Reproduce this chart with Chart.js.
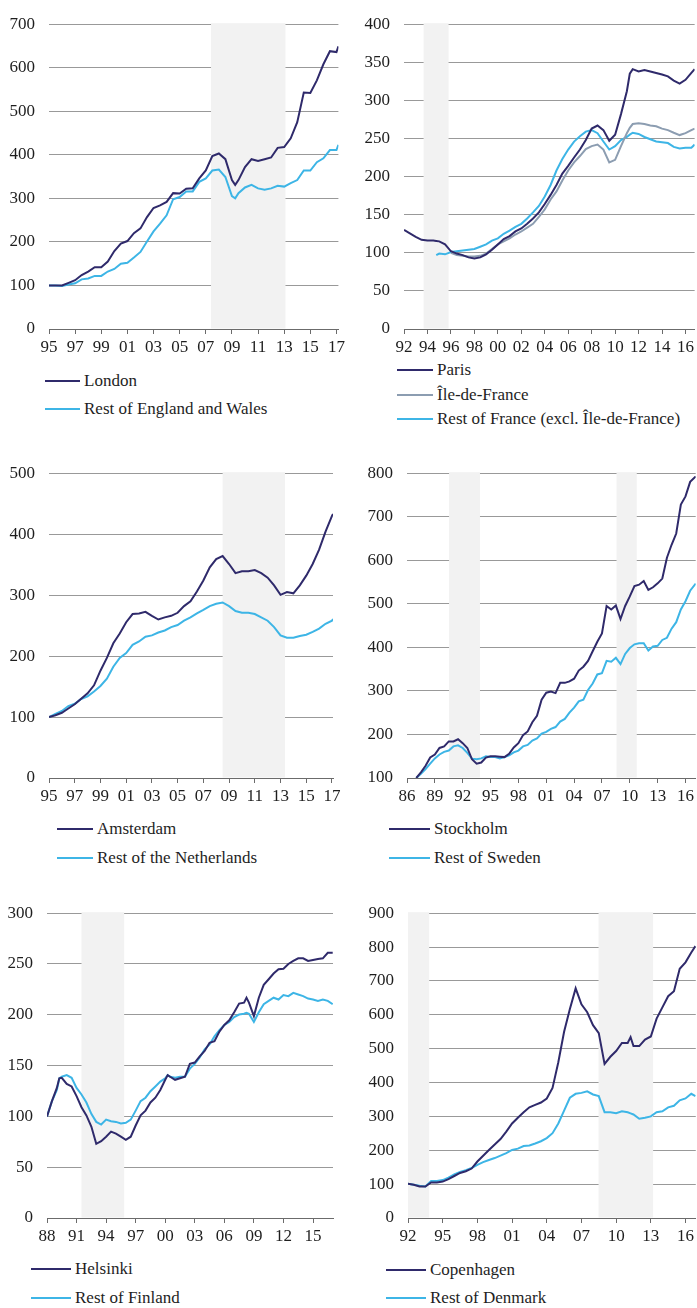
<!DOCTYPE html>
<html>
<head>
<meta charset="utf-8">
<title>Capital city house prices vs rest of country</title>
<script src="https://cdn.jsdelivr.net/npm/chart.js@4/dist/chart.umd.min.js"></script>
<style>
  body { margin: 0; background: #fff; font-family: 'Liberation Serif', 'Times New Roman', serif; }
  #page { position: relative; width: 697px; height: 1308px; overflow: hidden; }
  canvas { position: absolute; }
  .key { position: absolute; height: 20px; display: flex; align-items: center; white-space: nowrap; font-size: 17px; color: #1e1e1e; }
  .key .swatch { height: 0; border-top: 2px solid; }
  .key .name { margin-left: 4px; line-height: 20px; }
</style>
</head>
<body>
<div id="page">
  <canvas id="ukChart" width="348" height="360" style="left:0;top:0;width:348px;height:360px"></canvas>
  <canvas id="frChart" width="347" height="360" style="left:350px;top:0;width:347px;height:360px"></canvas>
  <canvas id="nlChart" width="348" height="360" style="left:0;top:449px;width:348px;height:360px"></canvas>
  <canvas id="seChart" width="347" height="360" style="left:350px;top:449px;width:347px;height:360px"></canvas>
  <canvas id="fiChart" width="348" height="360" style="left:0;top:889px;width:348px;height:360px"></canvas>
  <canvas id="dkChart" width="347" height="360" style="left:350px;top:889px;width:347px;height:360px"></canvas>
</div>
<script>
// colours
const NAVY = '#2f2a6b';
const SKY = '#3db5e6';
const SLATE = '#8c9db1';
const GRID = '#999999';
const SHADE = '#f2f2f2';
const AXIS = '#6b6b6b';
const TICK_FONT = { family: "'Liberation Serif', 'Times New Roman', serif", size: 17 };

// ---- England and Wales (index 1995 = 100)
const ukYears = [1995, 1995.5, 1996, 1996.5, 1997, 1997.5, 1998, 1998.5, 1999, 1999.5,
  2000, 2000.5, 2001, 2001.5, 2002, 2002.5, 2003, 2003.5, 2004, 2004.5,
  2005, 2005.5, 2006, 2006.5, 2007, 2007.5, 2008, 2008.5, 2009, 2009.25, 2009.5,
  2010, 2010.5, 2011, 2011.5, 2012, 2012.5, 2013, 2013.5, 2014, 2014.5,
  2015, 2015.5, 2016, 2016.5, 2017, 2017.15];
const london = [100, 100, 100, 106, 112, 124, 132, 142, 142, 155,
  179, 196, 202, 220, 231, 257, 278, 284, 292, 312,
  311, 322, 323, 346, 364, 397, 403, 390, 342, 331, 342,
  372, 390, 386, 390, 394, 416, 418, 438, 475, 543,
  542, 571, 608, 638, 636, 649];
const restEnglandWales = [100, 100, 99, 102, 105, 114, 116, 122, 122, 132,
  138, 150, 152, 164, 177, 201, 224, 242, 261, 298,
  303, 316, 316, 338, 346, 364, 366, 349, 305, 300, 312,
  325, 331, 323, 320, 323, 329, 327, 335, 342, 364,
  364, 383, 392, 411, 411, 423];
const ukTicks = [1995, 1997, 1999, 2001, 2003, 2005, 2007, 2009, 2011, 2013, 2015, 2017];
const ukShade = [[2007.4, 2013.1]];

// ---- France
const frYears = [1992, 1992.5, 1993, 1993.5, 1994, 1994.5, 1994.75, 1995, 1995.5,
  1996, 1996.5, 1997, 1997.5, 1998, 1998.5, 1999, 1999.5,
  2000, 2000.5, 2001, 2001.5, 2002, 2002.5, 2003, 2003.5, 2004, 2004.5,
  2005, 2005.5, 2006, 2006.5, 2007, 2007.5, 2008, 2008.5, 2009, 2009.5,
  2010, 2010.5, 2011, 2011.25, 2011.5, 2012, 2012.5, 2013, 2013.5,
  2014, 2014.5, 2015, 2015.5, 2016, 2016.5, 2016.78];
const paris = [130, 125.6, 121, 117, 116, 116, 115.5, 115, 111,
  102, 99, 97, 94, 92.6, 94, 98, 104,
  111, 118, 122, 128, 132, 138, 145, 153, 164, 176,
  189, 204, 214, 225, 235.5, 248, 263, 267, 261, 247,
  255, 282, 312, 335, 341, 338, 340, 338, 336,
  334, 331.5, 326, 322, 327, 336, 341];
const ileDeFrance = [null, null, null, null, null, null, null, null, null,
  100, 97, 96, 95, 95, 96, 99, 105,
  111, 115, 119, 124, 128, 133, 138, 147, 157, 170,
  180.5, 195, 208, 218.6, 227, 236, 240, 242, 235.5, 218.6,
  222, 240, 257, 264, 269, 270, 269, 267, 266,
  263, 261, 257.5, 254.5, 257, 261, 263];
const restFrance = [null, null, null, null, null, null, 97, 99, 98,
  101, 102, 103, 104, 105, 108, 111, 116,
  119, 125, 129, 134, 138, 145, 153, 161.5, 174, 189,
  208, 223, 235.5, 246, 253, 259, 261, 257, 246, 235.5,
  240, 248, 252, 255, 257.5, 256, 252, 249, 246,
  245, 244, 239, 237, 238, 238, 242];
const frTicks = [1992, 1994, 1996, 1998, 2000, 2002, 2004, 2006, 2008, 2010, 2012, 2014, 2016];
const frShade = [[1993.67, 1995.8]];

// ---- Netherlands
const nlYears = [1995, 1995.5, 1996, 1996.5, 1997, 1997.5, 1998, 1998.5, 1999, 1999.5,
  2000, 2000.5, 2001, 2001.5, 2002, 2002.5, 2003, 2003.5, 2004, 2004.5,
  2005, 2005.5, 2006, 2006.5, 2007, 2007.5, 2008, 2008.5, 2009, 2009.5,
  2010, 2010.5, 2011, 2011.5, 2012, 2012.5, 2013, 2013.5, 2014, 2014.5,
  2015, 2015.5, 2016, 2016.5, 2017, 2017.08];
const amsterdam = [100, 103, 107, 114, 121, 130, 139, 152, 176, 197,
  221, 237, 255.5, 269, 270, 272.5, 266, 260, 263.5, 266,
  271, 282, 290, 306, 324, 345.5, 359, 364, 351, 336,
  339, 339, 341, 336, 328.6, 316, 300.5, 305, 303, 316,
  332, 351, 374.6, 404, 430, 433];
const restNetherlands = [100, 105, 110, 118, 121.7, 129.6, 134, 142, 151, 163,
  182.5, 197, 205, 218.5, 224, 231.7, 234, 238.6, 242, 247.6,
  251, 258, 263.5, 270, 275.7, 282, 285.7, 288, 282, 274,
  271, 271, 269, 263.5, 258, 247.6, 234, 230, 230, 233,
  235, 239.7, 245, 253, 258, 261];
const nlTicks = [1995, 1997, 1999, 2001, 2003, 2005, 2007, 2009, 2011, 2013, 2015, 2017];
const nlShade = [[2008.5, 2013.35]];

// ---- Sweden
const seYears = [1987, 1987.5, 1988, 1988.5, 1989, 1989.5, 1990, 1990.5, 1991, 1991.5,
  1992, 1992.5, 1993, 1993.5, 1994, 1994.5, 1995, 1995.5, 1996, 1996.5,
  1997, 1997.5, 1998, 1998.5, 1999, 1999.5, 2000, 2000.5, 2001, 2001.5,
  2002, 2002.5, 2003, 2003.5, 2004, 2004.5, 2005, 2005.5, 2006, 2006.5,
  2007, 2007.5, 2008, 2008.5, 2009, 2009.5, 2010, 2010.5, 2011, 2011.5,
  2012, 2012.5, 2013, 2013.5, 2014, 2014.5, 2015, 2015.5, 2016, 2016.5, 2017.1];
const stockholm = [100, 113, 128, 147, 154, 169, 172.6, 184, 184, 189,
  180, 169, 143, 133, 135.6, 147, 150, 150, 149, 148,
  155.6, 170, 180, 198.5, 207, 228, 243, 280, 296, 298.5,
  295, 318.5, 318.5, 322, 328, 346.7, 355.6, 369, 391, 413,
  432, 495, 487, 496, 465, 495, 517, 541, 544, 552.6,
  532, 538, 547, 558, 606, 635.6, 661.5, 728, 746.7, 780, 792.6];
const restSweden = [100, 109.6, 120.7, 133, 145, 154, 160, 163, 172.6, 175,
  169, 157.8, 144.4, 143, 145, 150, 148, 148, 145, 148,
  152, 159, 163, 172.6, 176, 186, 191, 202, 206, 213,
  217, 229.6, 235.6, 250, 261.5, 276, 280, 302, 317, 337.8,
  340.7, 369, 367, 376, 361.5, 385, 398.5, 407, 409.6, 409.6,
  392.6, 402, 403.7, 417, 422, 443, 457.8, 487, 506, 530, 546.7];
const seTicks = [1986, 1989, 1992, 1995, 1998, 2001, 2004, 2007, 2010, 2013, 2016];
const seShade = [[1990.53, 1993.86], [2008.57, 2010.75]];

// ---- Finland
const fiYears = [1988, 1988.5, 1989, 1989.25, 1989.5, 1990, 1990.5, 1991, 1991.5,
  1992, 1992.5, 1993, 1993.5, 1994, 1994.5, 1995, 1995.5, 1996, 1996.5,
  1997, 1997.5, 1998, 1998.5, 1999, 1999.5, 2000, 2000.25, 2000.5,
  2001, 2001.5, 2002, 2002.5, 2003, 2003.5, 2004, 2004.5, 2005, 2005.5,
  2006, 2006.5, 2007, 2007.5, 2008, 2008.25, 2008.5, 2009, 2009.5,
  2010, 2010.5, 2011, 2011.5, 2012, 2012.5, 2013, 2013.5, 2014, 2014.5,
  2015, 2015.5, 2016, 2016.5, 2017];
const helsinki = [100, 115, 128, 137.5, 138, 132, 129.5, 120, 109,
  101, 90, 73, 75.6, 80, 85, 83, 80, 77, 80,
  91, 101, 105.7, 113.7, 118.4, 126, 136, 140.6, 139,
  136, 137.5, 139, 151.7, 153, 159, 164.4, 172.4, 174, 183.5,
  190, 194.6, 202.5, 211, 212, 216.8, 212, 198.7, 216.8,
  229.5, 235, 240.6, 244.8, 245.4, 250, 253, 255.6, 255.6, 253,
  254, 255, 255.6, 261, 261];
const restFinland = [100, 115, 126, 137.5, 139, 140.6, 138, 128, 121.6,
  113.7, 102.5, 94.6, 92, 96.8, 95.2, 94.6, 93, 93.7, 96.8,
  105.7, 115, 118.4, 124.8, 129.5, 134.3, 137.5, 140.6, 139,
  138, 139, 139, 147, 151.7, 158, 166, 170.8, 178.7, 185,
  190, 193, 197.8, 200.3, 201, 202, 201, 193, 202.5,
  210.5, 213.7, 216.8, 215, 219.4, 218.4, 221.6, 220, 218.4, 216,
  215, 213.7, 215, 213.7, 210.5];
const fiTicks = [1988, 1991, 1994, 1997, 2000, 2003, 2006, 2009, 2012, 2015];
const fiShade = [[1991.5, 1995.83]];

// ---- Denmark
const dkYears = [1992, 1992.5, 1993, 1993.5, 1994, 1994.5, 1995, 1995.5, 1996, 1996.5,
  1997, 1997.5, 1998, 1998.5, 1999, 1999.5, 2000, 2000.5, 2001, 2001.5,
  2002, 2002.5, 2003, 2003.5, 2004, 2004.5, 2005, 2005.5, 2006, 2006.5,
  2007, 2007.5, 2008, 2008.5, 2009, 2009.5, 2010, 2010.5, 2011, 2011.25, 2011.5,
  2012, 2012.5, 2013, 2013.5, 2014, 2014.5, 2015, 2015.5, 2016, 2016.5, 2016.86];
const copenhagen = [101, 98, 93, 93, 105, 105, 107.6, 115, 124, 133,
  138, 146, 166.7, 184, 201, 217, 233, 255, 279, 296,
  312, 326.7, 334, 341, 353, 384, 460, 550, 617, 678,
  631, 607.6, 569.5, 545.7, 455, 476, 493, 517, 517, 534, 507.6,
  507.6, 526.7, 536, 588.6, 622, 655, 669.5, 736, 755, 784, 803];
const restDenmark = [101, 98, 95, 93, 109.5, 109.5, 112, 119, 128.6, 136,
  141, 147.6, 157, 164.8, 171.4, 177, 184, 191.4, 201, 204.8,
  212.4, 214, 220, 226.7, 236, 250.5, 279, 317, 355, 366.7,
  369.5, 374, 364.8, 360, 312.4, 312.4, 309.5, 315, 312.4, 309, 305.7,
  293, 296, 300, 312.4, 315, 326.7, 331.4, 347.6, 353, 366.7, 360];
const dkTicks = [1992, 1995, 1998, 2001, 2004, 2007, 2010, 2013, 2016];
const dkShade = [[1992, 1993.83], [2008.48, 2013.2]];

Chart.defaults.font.family = TICK_FONT.family;
Chart.defaults.font.size = 17;
Chart.defaults.color = '#1e1e1e';

const CANVAS_H = 360;
const PLOT_TOP = 14;
const PLOT_H = 315;

// grey recession bands, painted over the gridlines but under the lines
const shadeBands = {
  id: 'shadeBands',
  beforeDatasetsDraw(chart, args, opts) {
    const { ctx, chartArea: a, scales: { x } } = chart;
    ctx.save();
    ctx.fillStyle = SHADE;
    (opts.periods || []).forEach(([from, to]) => {
      const x1 = Math.max(a.left, x.getPixelForValue(from));
      const x2 = x.getPixelForValue(to);
      ctx.fillRect(x1, a.top - 1, x2 - x1, a.bottom - a.top + 0.5);
    });
    ctx.restore();
  }
};

function drawPanel(p) {
  const canvas = document.getElementById(p.id);
  new Chart(canvas, {
    type: 'line',
    data: {
      datasets: p.series.map(s => ({
        label: s.label,
        data: p.years.map((x, i) => ({ x, y: s.values[i] })).filter(d => d.y != null),
        borderColor: s.color,
        borderWidth: 2,
        pointRadius: 0,
        tension: 0,
        fill: false
      }))
    },
    options: {
      responsive: false,
      animation: false,
      devicePixelRatio: 1,
      layout: { autoPadding: false, padding: { top: PLOT_TOP, right: canvas.width - p.right, left: 0, bottom: 0 } },
      plugins: {
        legend: { display: false },
        tooltip: { enabled: false },
        shadeBands: { periods: p.shade }
      },
      scales: {
        x: {
          type: 'linear',
          min: p.xMin,
          max: p.xMax,
          afterBuildTicks: sc => { sc.ticks = p.ticks.map(v => ({ value: v })); },
          afterFit: sc => { sc.height = CANVAS_H - PLOT_TOP - PLOT_H; },
          grid: { drawOnChartArea: false, drawTicks: true, tickLength: 5, color: AXIS, lineWidth: 1 },
          border: { display: true, color: AXIS, width: 1 },
          ticks: {
            autoSkip: false,
            maxRotation: 0,
            padding: 3,
            font: TICK_FONT,
            color: '#1e1e1e',
            callback: v => String(v % 100).padStart(2, '0')
          }
        },
        y: {
          min: p.yMin,
          max: p.yMax,
          afterFit: sc => { sc.width = p.left; },
          ticks: { stepSize: p.yStep, padding: 14, font: TICK_FONT, color: '#1e1e1e' },
          grid: {
            drawTicks: false,
            lineWidth: 1,
            color: c => (c.tick && c.tick.value === p.yMin) ? 'rgba(0,0,0,0)' : GRID
          },
          border: { display: false }
        }
      }
    },
    plugins: [shadeBands]
  });

  // legend underneath, built from the same series
  const page = document.getElementById('page');
  p.series.forEach((s, i) => {
    const row = document.createElement('div');
    row.className = 'key';
    row.style.left = p.keyX + 'px';
    row.style.top = (p.keyY[i] - 10) + 'px';
    const sw = document.createElement('span');
    sw.className = 'swatch';
    sw.style.width = p.keyW + 'px';
    sw.style.borderTopColor = s.color;
    const nm = document.createElement('span');
    nm.className = 'name';
    nm.textContent = s.label;
    row.appendChild(sw);
    row.appendChild(nm);
    page.appendChild(row);
  });
}

drawPanel({
  id: 'ukChart', years: ukYears, ticks: ukTicks, shade: ukShade,
  xMin: 1995, xMax: 2017.15, yMin: 0, yMax: 700, yStep: 100, left: 49, right: 341,
  series: [
    { label: 'London', values: london, color: NAVY },
    { label: 'Rest of England and Wales', values: restEnglandWales, color: SKY }
  ],
  keyX: 45, keyW: 35, keyY: [381, 409]
});

drawPanel({
  id: 'frChart', years: frYears, ticks: frTicks, shade: frShade,
  xMin: 1992, xMax: 2016.78, yMin: 0, yMax: 400, yStep: 50, left: 54, right: 347,
  series: [
    { label: 'Paris', values: paris, color: NAVY },
    { label: 'Île-de-France', values: ileDeFrance, color: SLATE },
    { label: 'Rest of France (excl. Île-de-France)', values: restFrance, color: SKY }
  ],
  keyX: 397, keyW: 36, keyY: [370, 395, 419]
});

drawPanel({
  id: 'nlChart', years: nlYears, ticks: nlTicks, shade: nlShade,
  xMin: 1995, xMax: 2017.08, yMin: 0, yMax: 500, yStep: 100, left: 49, right: 333,
  series: [
    { label: 'Amsterdam', values: amsterdam, color: NAVY },
    { label: 'Rest of the Netherlands', values: restNetherlands, color: SKY }
  ],
  keyX: 57, keyW: 36, keyY: [829, 858]
});

drawPanel({
  id: 'seChart', years: seYears, ticks: seTicks, shade: seShade,
  xMin: 1986, xMax: 2017.1, yMin: 100, yMax: 800, yStep: 100, left: 57, right: 347,
  series: [
    { label: 'Stockholm', values: stockholm, color: NAVY },
    { label: 'Rest of Sweden', values: restSweden, color: SKY }
  ],
  keyX: 389, keyW: 41, keyY: [829, 858]
});

drawPanel({
  id: 'fiChart', years: fiYears, ticks: fiTicks, shade: fiShade,
  xMin: 1988, xMax: 2017.03, yMin: 0, yMax: 300, yStep: 50, left: 47, right: 333,
  series: [
    { label: 'Helsinki', values: helsinki, color: NAVY },
    { label: 'Rest of Finland', values: restFinland, color: SKY }
  ],
  keyX: 31, keyW: 40, keyY: [1269, 1298]
});

drawPanel({
  id: 'dkChart', years: dkYears, ticks: dkTicks, shade: dkShade,
  xMin: 1992, xMax: 2016.89, yMin: 0, yMax: 900, yStep: 100, left: 58, right: 347,
  series: [
    { label: 'Copenhagen', values: copenhagen, color: NAVY },
    { label: 'Rest of Denmark', values: restDenmark, color: SKY }
  ],
  keyX: 386, keyW: 40, keyY: [1270, 1298]
});
</script>
</body>
</html>
